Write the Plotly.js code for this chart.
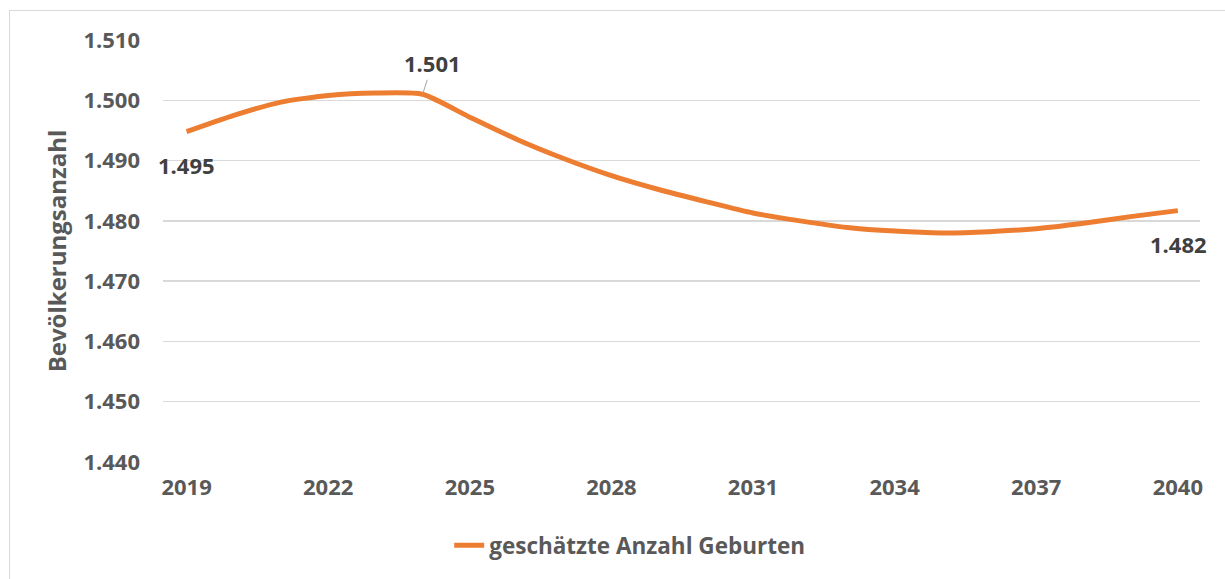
<!DOCTYPE html>
<html>
<head>
<meta charset="utf-8">
<script src="https://cdn.plot.ly/plotly-3.0.1.min.js"></script>
<style>
html,body{margin:0;padding:0;background:#fff;overflow:hidden;}
#frame{position:absolute;left:9px;top:10px;width:1240px;height:620px;border:1px solid #d9d9d9;pointer-events:none;}
#chart{position:absolute;left:0;top:0;width:1225px;height:579px;}
</style>
</head>
<body>
<div id="chart"></div>
<div id="frame"></div>
<script>
const years = [2019,2020,2021,2022,2023,2024,2025,2026,2027,2028,2029,2030,2031,2032,2033,2034,2035,2036,2037,2038,2039,2040];
const births = [1494.8,1497.5,1499.7,1500.8,1501.2,1501.0,1497.2,1493.5,1490.3,1487.5,1485.2,1483.2,1481.3,1480.0,1478.9,1478.3,1478.0,1478.2,1478.7,1479.6,1480.7,1481.7];
const seriesName = 'geschätzte Anzahl Geburten';
const yTickVals = [1440,1450,1460,1470,1480,1490,1500,1510];
const yTickText = ['1.440','1.450','1.460','1.470','1.480','1.490','1.500','1.510'];
const xTickVals = [2019,2022,2025,2028,2031,2034,2037,2040];
const xTickText = ['2019','2022','2025','2028','2031','2034','2037','2040'];
const labelIdx = [0,5,21];
const labelText = ['1.495','1.501','1.482'];

const F = 'Open Sans, Noto Sans, sans-serif';
const trace = {
  x: years, y: births, type:'scatter', mode:'lines', name: seriesName,
  line:{color:'#ED7D31', width:5, shape:'spline', smoothing:0.6},
  hoverinfo:'skip'
};
const ann = [
  {x: years[labelIdx[0]], y: births[labelIdx[0]], text: labelText[0], showarrow:false, yshift:-33, xshift:0, xanchor:'center'},
  {x: years[labelIdx[1]], y: births[labelIdx[1]], text: labelText[1], showarrow:true, ax:10, ay:-31, arrowhead:0, arrowwidth:1, arrowcolor:'#a6a6a6', standoff:1},
  {x: years[labelIdx[2]], y: births[labelIdx[2]], text: labelText[2], showarrow:false, yshift:-33, xshift:1, xanchor:'center'}
].map(a => Object.assign(a, {font:{family:F, size:22, color:'#404040', weight:700}}));

const layout = {
  width:1225, height:579,
  margin:{l:163, r:25, t:40, b:114},
  paper_bgcolor:'#fff', plot_bgcolor:'#fff',
  font:{family:F, size:22, color:'#595959', weight:700},
  showlegend:true,
  legend:{orientation:'h', x:0.276, xanchor:'left', y:-0.198, yanchor:'middle', font:{family:F, size:22.5, color:'#595959', weight:700}},
  xaxis:{range:[2018.5,2040.47], tickvals:xTickVals, ticktext:xTickText, showgrid:false, zeroline:false, showline:false, ticks:'', ticklabelstandoff:10, tickfont:{family:F,size:22,color:'#595959',weight:700}},
  yaxis:{range:[1440,1510], tickvals:yTickVals, ticktext:yTickText, showgrid:true, gridcolor:'#d9d9d9', gridwidth:1.5, zeroline:false, showline:false, ticks:'', ticklabelstandoff:22, tickfont:{family:F,size:22,color:'#595959',weight:700},
    title:{text:'Bevölkerungsanzahl', standoff:10, font:{family:F,size:24,color:'#595959',weight:700}}, automargin:false},
  annotations: ann
};
Plotly.newPlot('chart',[trace],layout,{displayModeBar:false, staticPlot:true});
</script>
</body>
</html>
